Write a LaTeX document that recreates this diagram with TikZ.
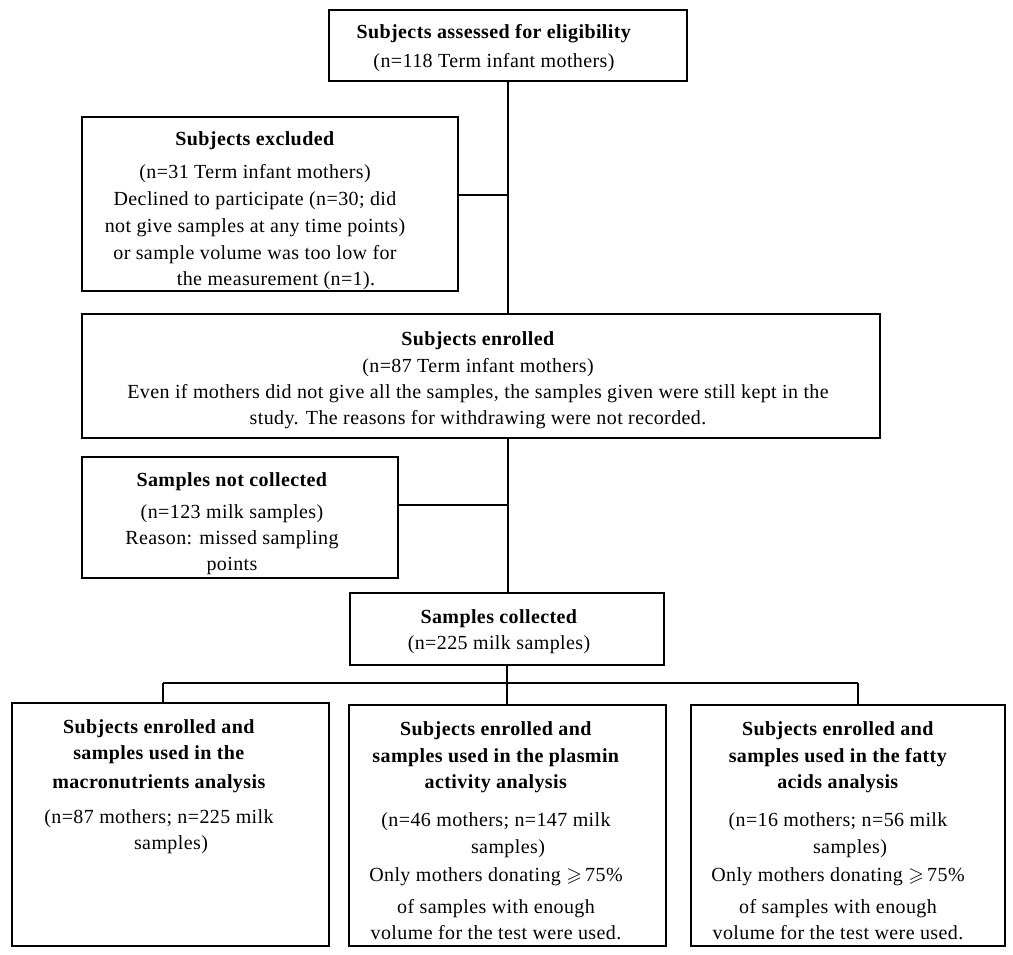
\documentclass[tikz,border=0pt]{standalone}
\usepackage{fontspec}
\setmainfont[LetterSpace=2]{Liberation Serif}
\usepackage{amssymb}

\tikzset{
  box/.style={draw, line width=2pt, inner sep=0pt},
  txt/.style={align=center, inner sep=0pt, anchor=north, font=\fontsize{20}{26}\selectfont},
  link/.style={line width=1.6pt}
}

\begin{document}
\begin{tikzpicture}[x=1pt, y=-1pt]
\useasboundingbox (0,0) rectangle (1013,955);
%%% Draws boxes
% upper part
\node[box, minimum width=358pt, minimum height=71pt] (assess) at (508,45.5) {};
\node[box, minimum width=376pt, minimum height=174pt] (excl) at (270,204) {};
\node[box, minimum width=798pt, minimum height=124pt] (enrol) at (481,376) {};
\node[box, minimum width=316pt, minimum height=121pt] (notcol) at (240,517.5) {};
\node[box, minimum width=314pt, minimum height=72pt] (collected) at (507,629) {};
% analysis boxes
\node[box, minimum width=317pt, minimum height=243pt] (mac) at (170.5,824.5) {};
\node[box, minimum width=317pt, minimum height=241pt] (plas) at (507,825.5) {};
\node[box, minimum width=314pt, minimum height=241pt] (fatty) at (848,825.5) {};
%%% Draws connectors
% trunk and side branches
\coordinate (trunk) at (508,0);
\coordinate (exclj) at (508,195);
\coordinate (notcolj) at (508,505);
\draw[link] (assess.south) -- (trunk |- enrol.north);
\draw[link] (trunk |- enrol.south) -- (trunk |- collected.north);
\draw[link] (exclj) -- (exclj -| excl.east);
\draw[link] (notcolj) -- (notcolj -| notcol.east);
% split to the analyses
\coordinate (split) at (507,683);
\coordinate (splitL) at (163,683);
\coordinate (splitR) at (858,683);
\draw[link] (collected.south) -- (split);
\draw[link] (splitL) -- (splitR);
\draw[link] (splitL) -- (splitL |- mac.north);
\draw[link] (split) -- (plas.north);
\draw[link] (splitR) -- (splitR |- fatty.north);
%%% Labels boxes
\node[txt] (assesstxt) at (494,24) {\textbf{Subjects assessed for eligibility}\\[3pt]
  (n=118 Term infant mothers)};
\node[txt] (excltxt) at (255,131) {\textbf{Subjects excluded}\\[7pt]
  (n=31 Term infant mothers)\\[1pt]
  Declined to participate (n=30; did\\[1pt]
  not give samples at any time points)\\[1pt]
  or sample volume was too low for\hspace*{12pt}\\
  \hspace*{42pt}the measurement (n=1).};
\node[txt] (enroltxt) at (478,331) {\textbf{Subjects enrolled}\\[1pt]
  (n=87 Term infant mothers)\\
  Even if mothers did not give all the samples, the samples given were still kept in the\\
  study. The reasons for withdrawing were not recorded.};
\node[txt] (notcoltxt) at (232,472) {\textbf{Samples not collected}\\[6pt]
  (n=123 milk samples)\\
  Reason: missed sampling\\
  points};
\node[txt] (collectedtxt) at (499,609) {\textbf{Samples collected}\\
  (n=225 milk samples)};
\node[txt] (mactxt) at (159,719) {\textbf{Subjects enrolled and}\\
  \textbf{samples used in the}\\[3pt]
  \textbf{macronutrients analysis}\\[9pt]
  (n=87 mothers; n=225 milk\\
  \hspace*{24pt}samples)};
\node[txt] (plastxt) at (496,721) {\textbf{Subjects enrolled and}\\[1pt]
  \textbf{samples used in the plasmin}\\
  \textbf{activity analysis}\\[12pt]
  (n=46 mothers; n=147 milk\\[1pt]
  \hspace*{24pt}samples)\\[2pt]
  Only mothers donating $\geqslant$\,75\%\\[6pt]
  of samples with enough\\
  volume for the test were used.};
\node[txt] (fattytxt) at (838,721) {\textbf{Subjects enrolled and}\\[1pt]
  \textbf{samples used in the fatty}\\
  \textbf{acids analysis}\\[12pt]
  (n=16 mothers; n=56 milk\\[1pt]
  \hspace*{24pt}samples)\\[2pt]
  Only mothers donating $\geqslant$\,75\%\\[6pt]
  of samples with enough\\
  volume for the test were used.};
\end{tikzpicture}
\end{document}
